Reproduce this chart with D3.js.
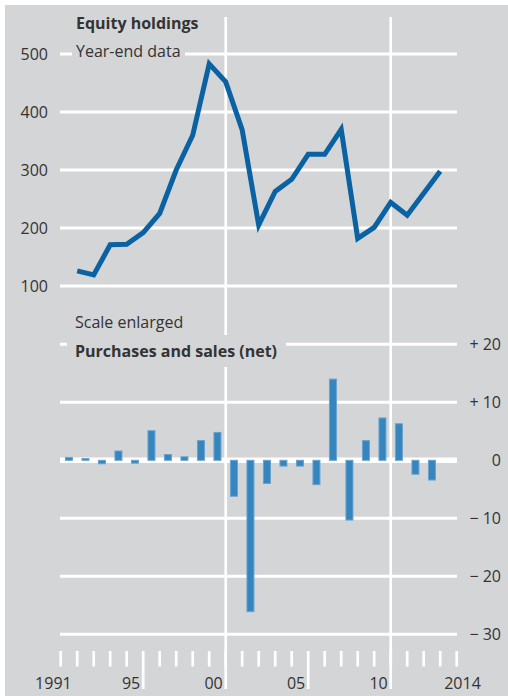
<!DOCTYPE html>
<html>
<head>
<meta charset="utf-8">
<script src="https://cdn.jsdelivr.net/npm/d3@7"></script>
<style>
  body { margin: 0; background: #fff; }
  text { font-family: "Open Sans", "DejaVu Sans", sans-serif; fill: #333; }
</style>
</head>
<body>
<div id="wrapper"></div>
<script>
// Dados
const years = [1991, 1992, 1993, 1994, 1995, 1996, 1997, 1998, 1999, 2000, 2001, 2002,
               2003, 2004, 2005, 2006, 2007, 2008, 2009, 2010, 2011, 2012, 2013];
const holdings = [126, 119, 171, 172, 192, 225, 300, 360, 483, 452, 369, 205,
                  263, 284, 327, 327, 370, 182, 201, 244, 222, 260, 298];
const netFlows = [0.5, 0.3, -0.6, 1.6, -0.5, 5.1, 1.0, 0.6, 3.4, 4.8, -6.2, -26.1,
                  -4.0, -1.0, -1.0, -4.2, 14.0, -10.3, 3.4, 7.3, 6.3, -2.4, -3.4];
const topTicks = [100, 200, 300, 400, 500];
const bottomTicks = [-30, -20, -10, 0, 10, 20];
const bottomTickLabels = ["\u2212 30", "\u2212 20", "\u2212 10", "0", "+ 10", "+ 20"];
const yearLabels = [
  { year: 1991, label: "1991" },
  { year: 1995, label: "95" },
  { year: 2000, label: "00" },
  { year: 2005, label: "05" },
  { year: 2010, label: "10" },
  { year: 2014, label: "2014" }
];

const width = 508, height = 696;
const bg = "#d4d5d7";
const lineColor = "#0a62a3";
const barColor = "#3585bf";

const svg = d3.select("#wrapper").append("svg")
  .attr("width", width)
  .attr("height", height);

svg.append("rect")
  .attr("x", 5).attr("y", 5)
  .attr("width", width - 5).attr("height", height - 5)
  .attr("fill", bg);

// Escalas (limites de anos no eixo x)
const x = d3.scaleLinear().domain([1991, 2015]).range([60.7, 456.7]);
const yTop = d3.scaleLinear().domain([100, 500]).range([286, 54]);
const yBot = d3.scaleLinear().domain([-30, 20]).range([634.3, 344.3]);
const gridX0 = 60, gridX1 = 457;

// Linhas de grade
svg.append("g").selectAll("line")
  .data(topTicks)
  .join("line")
    .attr("x1", gridX0).attr("x2", gridX1)
    .attr("y1", d => yTop(d)).attr("y2", d => yTop(d))
    .attr("stroke", "#fff").attr("stroke-width", 3);

svg.append("g").selectAll("line")
  .data(bottomTicks)
  .join("line")
    .attr("x1", gridX0).attr("x2", gridX1)
    .attr("y1", d => yBot(d)).attr("y2", d => yBot(d))
    .attr("stroke", "#fff").attr("stroke-width", d => d === 0 ? 5.5 : 3);

// Linhas verticais (2000/2001 e 2010/2011)
svg.append("g").selectAll("line")
  .data([2001, 2011])
  .join("line")
    .attr("x1", d => x(d)).attr("x2", d => x(d))
    .attr("y1", 17).attr("y2", 689)
    .attr("stroke", "#fff").attr("stroke-width", 2.7);

// Marcas do eixo x
svg.append("g").selectAll("line")
  .data(d3.range(1991, 2016))
  .join("line")
    .attr("x1", d => x(d)).attr("x2", d => x(d))
    .attr("y1", 651)
    .attr("y2", d => (d === 1996 || d === 2006) ? 689 : 666.5)
    .attr("stroke", "#fff").attr("stroke-width", 2.7);

// Rotulos eixo y
svg.append("g").selectAll("text")
  .data(topTicks)
  .join("text")
    .attr("x", 48).attr("y", d => yTop(d))
    .attr("dy", "0.35em")
    .attr("text-anchor", "end")
    .attr("font-size", 16)
    .text(d => d);

svg.append("g").selectAll("text")
  .data(bottomTicks)
  .join("text")
    .attr("x", 501).attr("y", d => yBot(d))
    .attr("dy", "0.35em")
    .attr("text-anchor", "end")
    .attr("font-size", 16)
    .text((d, i) => bottomTickLabels[i]);

// Rotulos eixo x
svg.append("g").selectAll("text")
  .data(yearLabels)
  .join("text")
    .attr("x", d => d.year === 1991 ? x(1992) - 5.5 : d.year === 2014 ? x(2014) + 4 : x(d.year + 1) - 3)
    .attr("y", 689)
    .attr("text-anchor", d => d.year === 2014 ? "start" : "end")
    .attr("font-size", 16)
    .text(d => d.label);

// Titulos com fundo cinza por cima da grade
svg.append("rect").attr("x", 72).attr("y", 40).attr("width", 113).attr("height", 20).attr("fill", bg);
svg.append("rect").attr("x", 67).attr("y", 335).attr("width", 219).attr("height", 32).attr("fill", bg);

svg.append("text").attr("x", 76).attr("y", 29).attr("font-size", 16).attr("font-weight", "bold")
  .text("Equity holdings");
svg.append("text").attr("x", 76).attr("y", 57).attr("font-size", 16)
  .text("Year-end data");
svg.append("text").attr("x", 75).attr("y", 328).attr("font-size", 16)
  .text("Scale enlarged");
svg.append("text").attr("x", 75).attr("y", 357).attr("font-size", 16).attr("font-weight", "bold")
  .text("Purchases and sales (net)");

// Barras
const bandW = x(1992) - x(1991);
svg.append("g").selectAll("rect")
  .data(years.map((y, i) => ({ year: y, value: netFlows[i] })))
  .join("rect")
    .attr("x", d => x(d.year) + bandW / 2 - 3.5)
    .attr("width", 7)
    .attr("y", d => yBot(Math.max(0, d.value)))
    .attr("height", d => Math.abs(yBot(d.value) - yBot(0)))
    .attr("fill", barColor)
    .attr("stroke", "#6aa3ce")
    .attr("stroke-width", 1);

// Linha das participacoes (fim de ano)
const line = d3.line()
  .x((d, i) => x(years[i] + 1))
  .y(d => yTop(d));
svg.append("path")
  .attr("d", line(holdings))
  .attr("fill", "none")
  .attr("stroke", lineColor)
  .attr("stroke-width", 5)
  .attr("stroke-linejoin", "miter");
</script>
</body>
</html>
